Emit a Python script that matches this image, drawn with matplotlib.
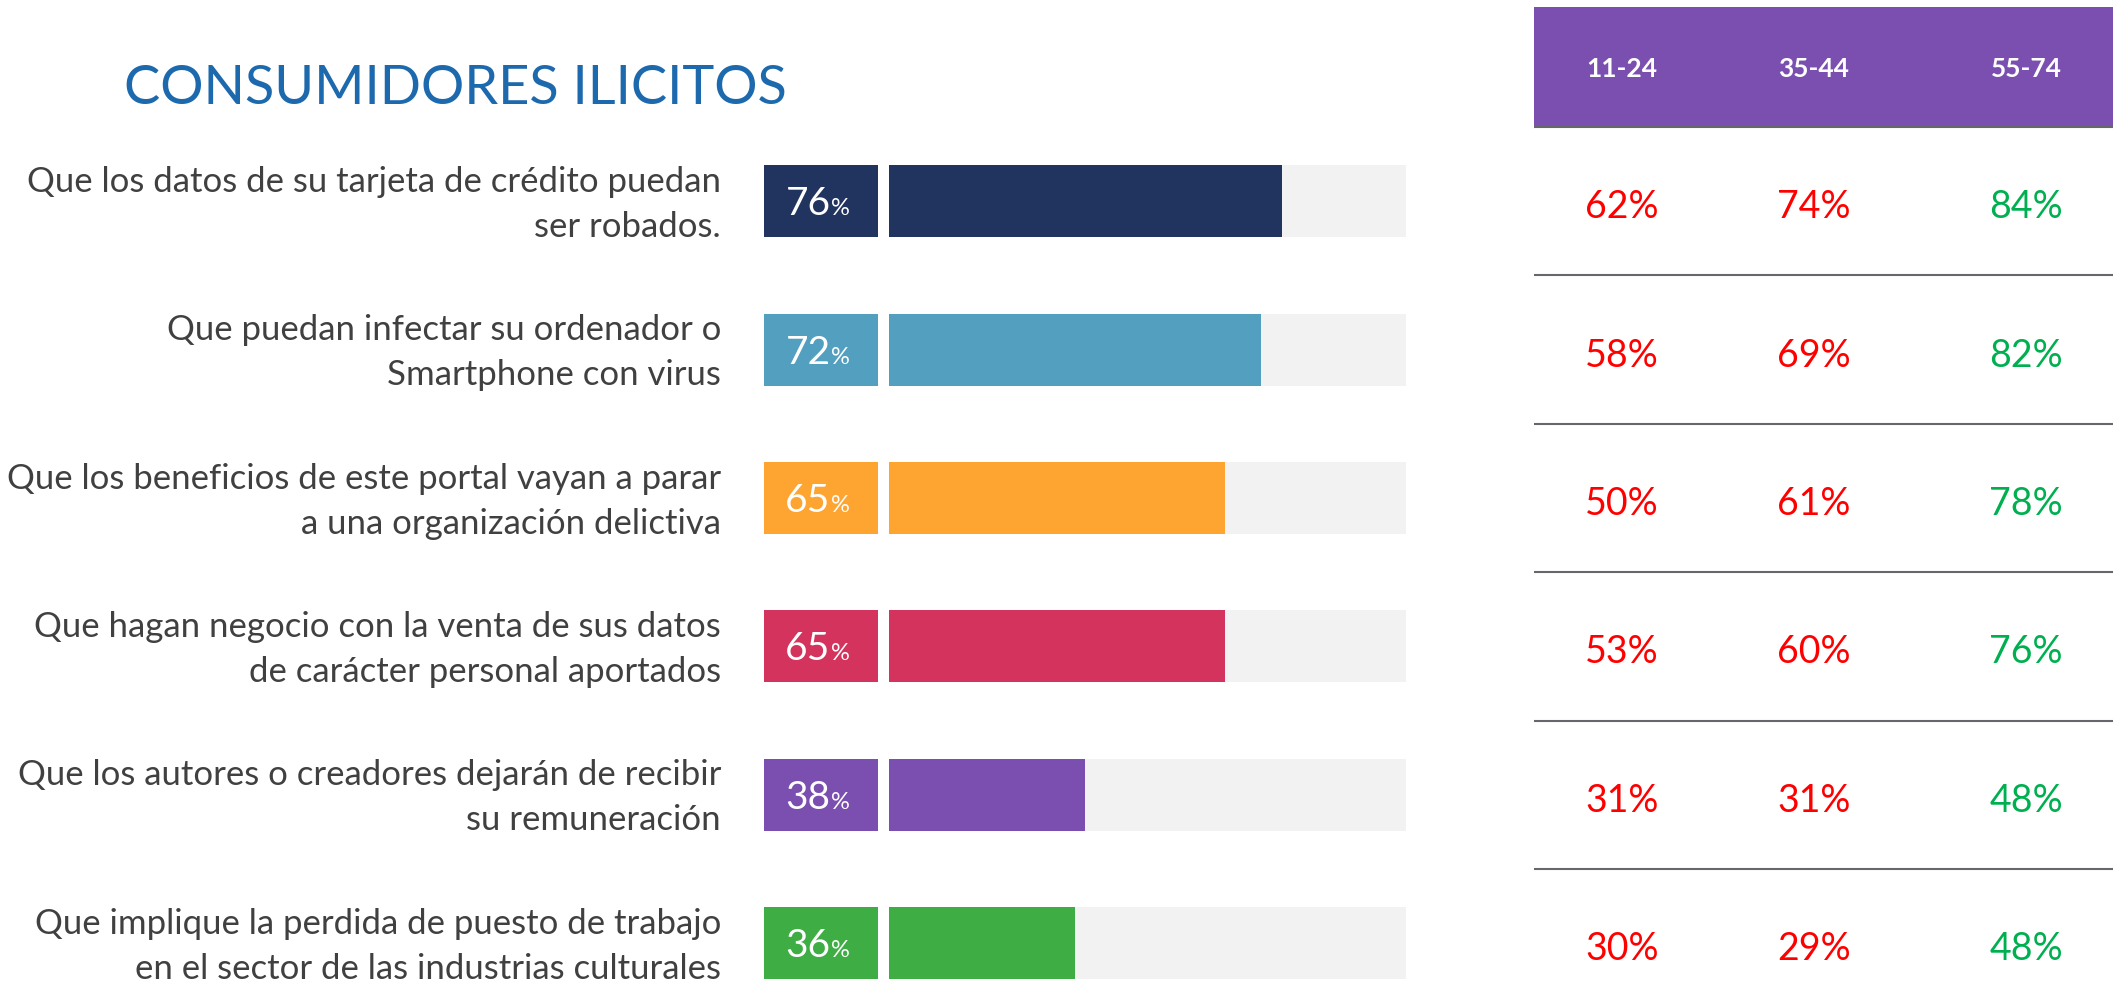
import matplotlib
matplotlib.use('Agg')
import matplotlib.pyplot as plt
from matplotlib.transforms import blended_transform_factory

# ---------------- data ----------------
title = "CONSUMIDORES ILICITOS"
labels = [
    "Que los datos de su tarjeta de crédito puedan\nser robados.",
    "Que puedan infectar su ordenador o\nSmartphone con virus",
    "Que los beneficios de este portal vayan a parar\na una organización delictiva",
    "Que hagan negocio con la venta de sus datos\nde carácter personal aportados",
    "Que los autores o creadores dejarán de recibir\nsu remuneración",
    "Que implique la perdida de puesto de trabajo\nen el sector de las industrias culturales",
]
totals = [76, 72, 65, 65, 38, 36]
age_groups = ["11-24", "35-44", "55-74"]
age_11_24 = [62, 58, 50, 53, 31, 30]
age_35_44 = [74, 69, 61, 60, 31, 29]
age_55_74 = [84, 82, 78, 76, 48, 48]
bar_colors = ["#21345F", "#539FBF", "#FEA431", "#D3335D", "#7B4FB0", "#3EAD44"]

# ---------------- style / layout ----------------
FONT = ['Lato', 'DejaVu Sans']
plt.rcParams['font.family'] = FONT
W, H, DPI = 2113, 997, 100
P = 148.4            # row pitch in px
TEXT_GREY = "#404040"
TITLE_BLUE = "#1D69AD"
TRACK = "#F2F2F2"
HEADER = "#7B4FB0"
RED = "#FF0000"
GREEN = "#00B050"
LINE = "#65676A"

fig = plt.figure(figsize=(W / DPI, H / DPI), dpi=DPI)
fig.patch.set_facecolor("white")


def axes_px(left, right, top, bottom):
    return fig.add_axes([left / W, 1 - bottom / H, (right - left) / W, (bottom - top) / H])


n = len(totals)
rows = list(range(n))

# bar axes
ax_top, ax_bot = 127, 997
ylim_rows = (-0.5 + (ax_bot - ax_top) / P, -0.5)

ax_bar = axes_px(889, 1406, ax_top, ax_bot)
ax_bar.barh(rows, [100] * n, height=72 / P, color=TRACK, linewidth=0)
ax_bar.barh(rows, totals, height=72 / P, color=bar_colors, linewidth=0)
ax_bar.set_xlim(0, 100)
ax_bar.set_ylim(*ylim_rows)
ax_bar.axis('off')

# badge axes
ax_bad = axes_px(764, 878, ax_top, ax_bot)
ax_bad.barh(rows, [1] * n, height=72 / P, color=bar_colors, linewidth=0)
ax_bad.set_xlim(0, 1)
ax_bad.set_ylim(*ylim_rows)
ax_bad.axis('off')
joint = 0.5 + 9.5 / 114
for r, v in zip(rows, totals):
    yb = r + 14 / P
    ax_bad.text(joint, yb, f"{v}", ha='right', va='baseline', color='white', fontsize=28)
    ax_bad.text(joint + 0.005, yb, "%", ha='left', va='baseline', color='white', fontsize=17)

# labels
tr = blended_transform_factory(fig.transFigure, ax_bad.transData)
for r, lab in zip(rows, labels):
    ax_bad.text(721 / W, r + 3 / P, lab, transform=tr, ha='right', va='center',
                multialignment='right', color=TEXT_GREY, fontsize=25, linespacing=1.5,
                clip_on=False)

# title
fig.text(124 / W, 1 - 104 / H, title, ha='left', va='baseline', color=TITLE_BLUE, fontsize=39)

# table
tb_top = 7
ax_tab = axes_px(1534, 2113, tb_top, 997)
t_top = -0.5 - 120 / P
ax_tab.set_ylim(t_top + (997 - tb_top) / P, t_top)
ax_tab.set_xlim(0, 1)
ax_tab.axis('off')
ax_tab.axhspan(t_top, -0.5, color=HEADER, linewidth=0)
col_x = [88 / 579, 280 / 579, 492 / 579]
for cx, g in zip(col_x, age_groups):
    ax_tab.text(cx, (t_top - 0.5) / 2 + 2 / P, g, ha='center', va='center', color='white',
                fontsize=19, fontweight='bold')
for k in range(n):
    ax_tab.axhline(k - 0.5, color=LINE, linewidth=1.5)
for cx, series in zip(col_x, [age_11_24, age_35_44, age_55_74]):
    for r, v, tot in zip(rows, series, totals):
        col = GREEN if v > tot else RED
        ax_tab.text(cx, r + 17 / P, f"{v}%", ha='center', va='baseline', color=col, fontsize=27)

fig.savefig("out.png", dpi=DPI, facecolor="white")
